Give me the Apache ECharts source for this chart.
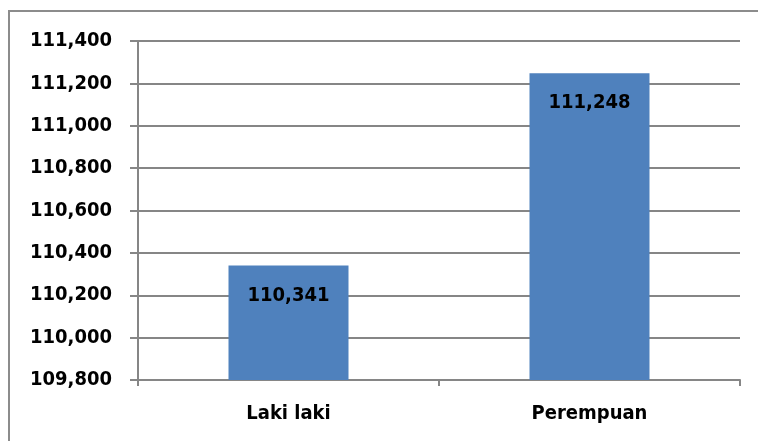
<!DOCTYPE html>
<html>
<head>
<meta charset="utf-8">
<script src="https://cdn.jsdelivr.net/npm/echarts@6/dist/echarts.min.js"></script>
<style>
  html, body { margin: 0; padding: 0; background: #fff; overflow: hidden; }
  #chart { width: 758px; height: 441px; }
</style>
</head>
<body>
<div id="chart"></div>
<script>
var categories = ['Laki laki', 'Perempuan']
var values = [110341, 111248]
var yMin = 109800
var yMax = 111400
var yStep = 200

var font = '"DejaVu Sans Condensed", "DejaVu Sans", sans-serif'
var chart = echarts.init(document.getElementById('chart'))

function fmt(v) {
  return String(v).replace(/\B(?=(\d{3})+(?!\d))/g, ',')
}

chart.setOption({
  animation: false,
  // outer frame: only top and left edges are visible in the crop
  graphic: [{
    type: 'polyline',
    shape: { points: [[9, 460], [9, 11], [800, 11]] },
    style: { fill: 'none', stroke: '#8c8c8c', lineWidth: 2 },
    silent: true
  }],
  grid: {
    left: 138,
    right: 18,
    top: 41,
    bottom: 61
  },
  xAxis: {
    type: 'category',
    data: categories,
    boundaryGap: true,
    axisLine: { lineStyle: { color: '#868686', width: 2 } },
    axisTick: { show: true, alignWithLabel: false, length: 6, lineStyle: { color: '#868686', width: 2 } },
    axisLabel: {
      color: '#000',
      fontFamily: font,
      fontWeight: 'bold',
      fontSize: 20,
      margin: 24
    }
  },
  yAxis: {
    type: 'value',
    min: yMin,
    max: yMax,
    interval: yStep,
    axisLine: { show: true, lineStyle: { color: '#868686', width: 2 } },
    axisTick: { show: true, length: 8, lineStyle: { color: '#868686', width: 2 } },
    splitLine: { lineStyle: { color: '#868686', width: 2 } },
    axisLabel: {
      color: '#000',
      fontFamily: font,
      fontWeight: 'bold',
      fontSize: 20,
      margin: 26,
      formatter: fmt
    }
  },
  series: [{
    type: 'bar',
    data: values,
    barWidth: 120,
    itemStyle: { color: '#4f81bd' },
    label: {
      show: true,
      position: 'insideTop',
      distance: 20,
      color: '#000',
      fontFamily: font,
      fontWeight: 'bold',
      fontSize: 20,
      formatter: function (p) { return fmt(p.value) }
    }
  }]
})
</script>
</body>
</html>
